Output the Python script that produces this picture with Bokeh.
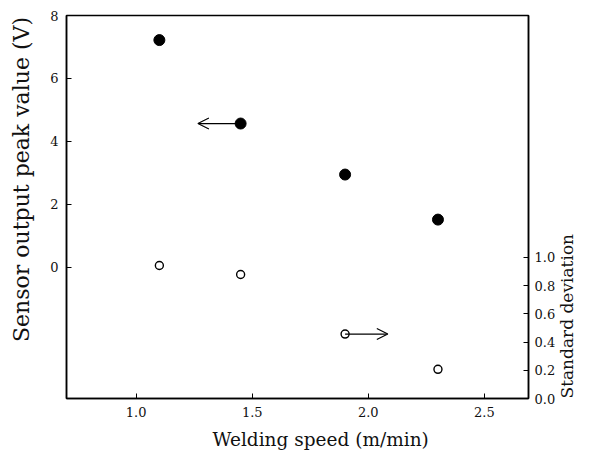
import math
from bokeh.plotting import figure
from bokeh.models import (Range1d, LinearAxis, FixedTicker, PrintfTickFormatter,
                          Arrow, OpenHead)
from bokeh.embed import file_html
from bokeh.resources import INLINE

# data
speed = [1.10, 1.45, 1.90, 2.30]
peak_v = [7.22, 4.57, 2.95, 1.52]
std_dev = [0.943, 0.879, 0.457, 0.207]

x_ticks = [1.0, 1.5, 2.0, 2.5]
left_ticks = [0, 2, 4, 6, 8]
right_ticks = [0.0, 0.2, 0.4, 0.6, 0.8, 1.0]

# arrow annotations (data units): start at point, end
left_arrow = dict(x_start=1.45, y_start=4.57, x_end=1.266, y_end=4.57)
right_arrow = dict(x_start=1.90, y_start=0.457, x_end=2.084, y_end=0.457)

FONT = "DejaVu Serif"
INK = "#111111"
EM = "\u2003"
EN = "\u2002"

p = figure(width=590, height=456, output_backend="svg", toolbar_location=None,
           x_range=Range1d(0.70, 2.69), y_range=Range1d(-4.16, 8.0),
           min_border_left=66, min_border_right=58, min_border_top=15,
           min_border_bottom=58)
p.extra_y_ranges = {"sd": Range1d(0.0, 2.716)}
p.grid.visible = False
p.outline_line_color = "black"
p.outline_line_width = 1.5
p.background_fill_color = "white"
p.border_fill_color = "white"

def style_axis(ax):
    ax.axis_line_color = "black"
    ax.axis_line_width = 1.5
    ax.major_tick_in = 5
    ax.major_tick_out = 0
    ax.major_tick_line_color = "black"
    ax.minor_tick_line_color = None
    ax.major_label_text_font = FONT
    ax.major_label_text_font_size = "13px"
    ax.major_label_text_color = INK
    ax.axis_label_text_font = FONT
    ax.axis_label_text_font_style = "normal"
    ax.axis_label_text_color = INK

xa = p.xaxis[0]
style_axis(xa)
xa.ticker = FixedTicker(ticks=x_ticks)
xa.formatter = PrintfTickFormatter(format="%.1f")
xa.axis_label = EM * 2 + EN + "Welding speed (m/min)"
xa.axis_label_text_font_size = "18.5px"
xa.major_label_standoff = 8
xa.axis_label_standoff = 9

ya = p.yaxis[0]
style_axis(ya)
ya.ticker = FixedTicker(ticks=left_ticks)
ya.major_label_standoff = 8
ya.axis_label = EM * 2 + EN + "Sensor output peak value (V)"
ya.axis_label_text_font_size = "22px"
ya.axis_label_standoff = 13

ra = LinearAxis(y_range_name="sd")
style_axis(ra)
ra.ticker = FixedTicker(ticks=right_ticks)
ra.formatter = PrintfTickFormatter(format="%.1f")
ra.major_label_standoff = 6
ra.axis_label = "Standard deviation"
ra.axis_label_text_font_size = "17px"
ra.axis_label_orientation = math.pi / 2
ra.axis_label_align = "start"
ra.axis_label_standoff = 9
p.add_layout(ra, "right")

p.add_layout(Arrow(end=OpenHead(size=11, line_width=1.2, line_color="black"),
                   line_width=1.2, line_color="black", **left_arrow))
p.add_layout(Arrow(end=OpenHead(size=11, line_width=1.2, line_color="black"),
                   line_width=1.2, line_color="black", y_range_name="sd", **right_arrow))

p.scatter(speed, peak_v, size=11, marker="circle", fill_color="black", line_color="black")
p.scatter(speed, std_dev, size=8, marker="circle", fill_color="white", line_color="black",
          line_width=1.4, y_range_name="sd")

open("out.html", "w").write(file_html(p, INLINE))
